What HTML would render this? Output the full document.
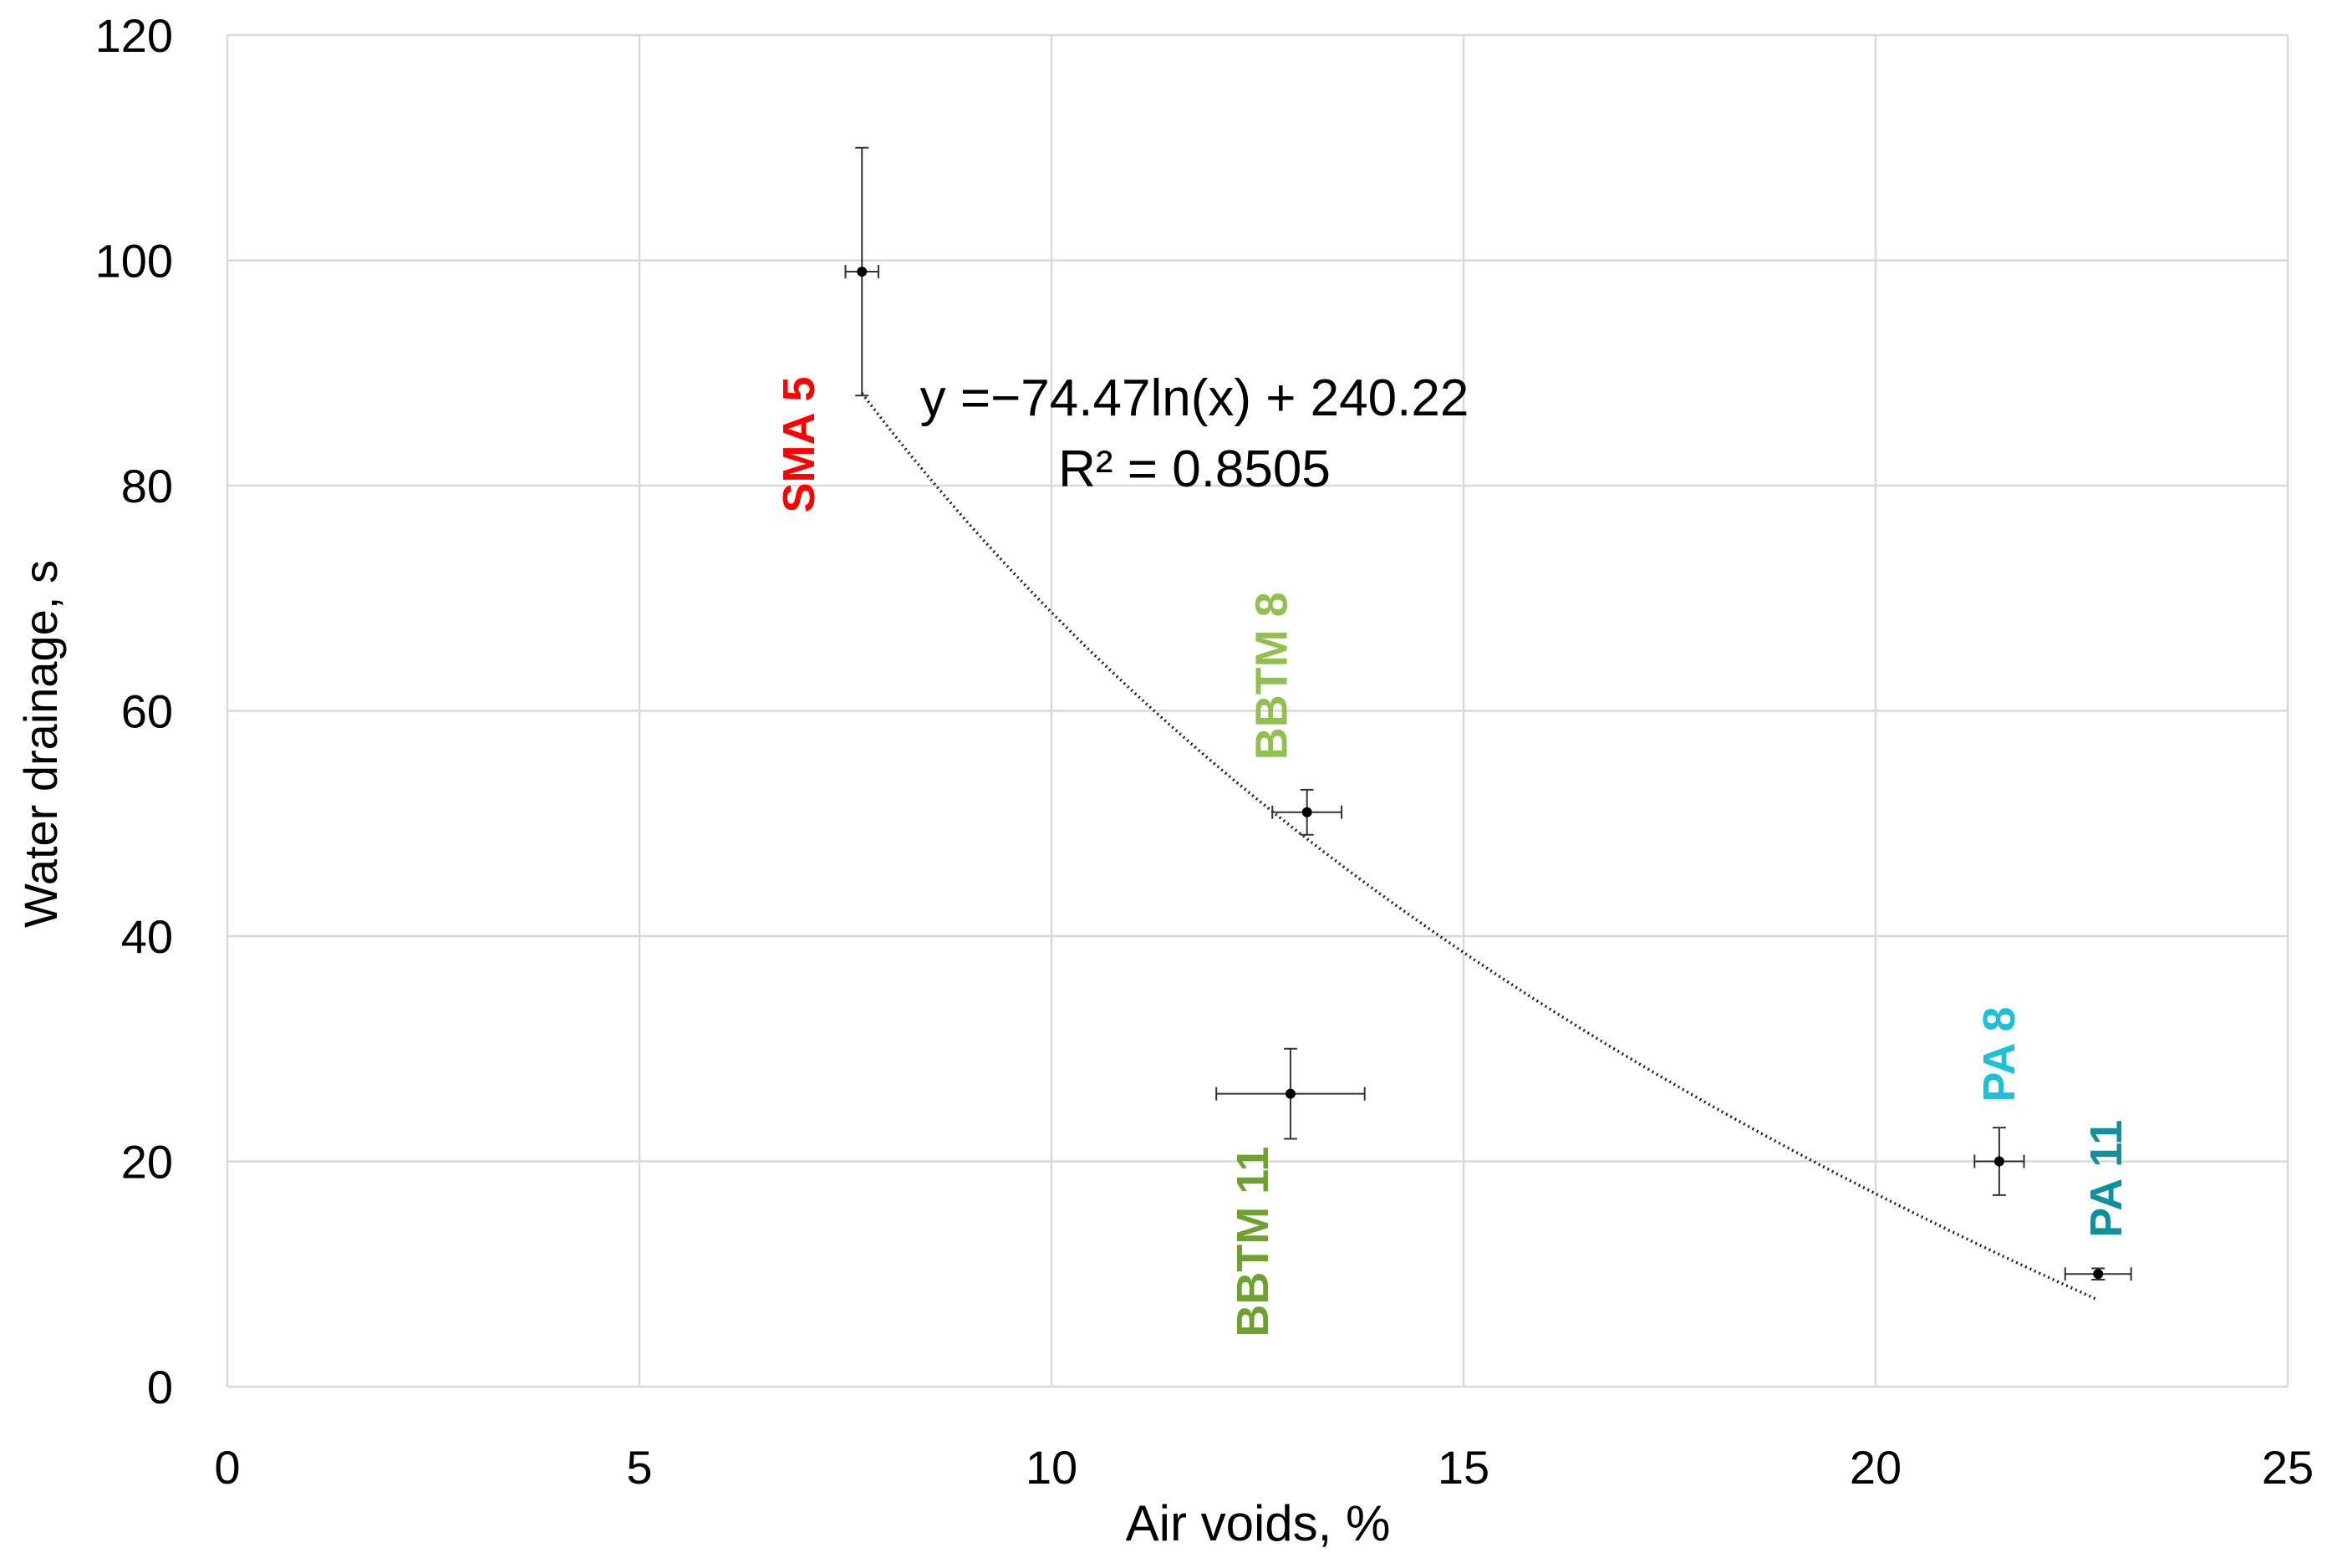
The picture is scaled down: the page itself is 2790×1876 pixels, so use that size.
<!DOCTYPE html>
<html><head><meta charset="utf-8"><style>
html,body{margin:0;padding:0;background:#fff}
svg text{font-family:"Liberation Sans",sans-serif}
</style></head><body>
<svg id="chart" width="2790" height="1871" viewBox="0 0 2790 1871" xmlns="http://www.w3.org/2000/svg">
<g id="grid"></g>
<g id="marks"></g>
<text x="1505" y="1843" font-size="60" text-anchor="middle">Air voids, %</text>
<text x="68" y="890" font-size="56" text-anchor="middle" transform="rotate(-90 68 890)">Water drainage, s</text>
<text x="1429" y="497" font-size="62" text-anchor="middle">y =−74.47ln(x) + 240.22</text>
<text x="1429" y="582" font-size="62" text-anchor="middle">R² = 0.8505</text>
</svg>
<script>
const xTicks=[0,5,10,15,20,25];
const yTicks=[0,20,40,60,80,100,120];
const names=["SMA 5","BBTM 8","BBTM 11","PA 8","PA 11"];
const xVals=[7.7,13.1,12.9,21.5,22.7];
const yVals=[99,51,26,20,10];
const xErr=[0.2,0.42,0.9,0.3,0.4];
const yErr=[11,2,4,3,0.5];
const colors=["#ff0000","#92c050","#70a030","#1ec0d8","#10909e"];
const trendA=-74.47, trendB=240.22, trendFrom=7.7, trendTo=22.7;
const L=272,R=2737,T=42,B=1659;
const sx=v=>L+v/25*(R-L), sy=v=>B-v/120*(B-T);
const NS="http://www.w3.org/2000/svg";
function mk(tag,attrs,parent){const e=document.createElementNS(NS,tag);for(const k in attrs)e.setAttribute(k,attrs[k]);parent.appendChild(e);return e;}
const grid=document.getElementById('grid'), marks=document.getElementById('marks'), svg=document.getElementById('chart');
xTicks.forEach(t=>{
 const l=mk('line',{x1:sx(t),x2:sx(t),y1:T,y2:B,stroke:'#d9d9d9','stroke-width':2.5},grid);
 
 
 const tx=mk('text',{x:sx(t),y:1775,'font-size':56,'text-anchor':'middle'},svg);tx.textContent=t;
 
 
});
yTicks.forEach(t=>{
 const l=mk('line',{x1:L,x2:R,y1:sy(t),y2:sy(t),stroke:'#d9d9d9','stroke-width':2.5},grid);
 
 
 const tx=mk('text',{x:207,y:sy(t)+20,'font-size':56,'text-anchor':'end'},svg);tx.textContent=t;
 
 
});
let d='';for(let i=0;i<=100;i++){const x=trendFrom+(trendTo-trendFrom)*i/100;const y=trendA*Math.log(x)+trendB;d+=(i?'L':'M')+sx(x).toFixed(1)+' '+sy(y).toFixed(1);}
const tr=mk('path',{d:d,fill:'none',stroke:'#222','stroke-width':3.5,'stroke-dasharray':'2 4'},marks);


const labelOff=[[-75,207],[-42,-163],[-45,177],[0,-128],[10,-114]];
xVals.forEach((x,i)=>{
 const y=yVals[i],cx=sx(x),cy=sy(y),c=8;
 const g=mk('g',{},marks);
 
 
 mk('line',{x1:cx,x2:cx,y1:sy(y-yErr[i]),y2:sy(y+yErr[i]),stroke:'#333','stroke-width':2},g);
 mk('line',{x1:cx-c,x2:cx+c,y1:sy(y-yErr[i]),y2:sy(y-yErr[i]),stroke:'#333','stroke-width':2},g);
 mk('line',{x1:cx-c,x2:cx+c,y1:sy(y+yErr[i]),y2:sy(y+yErr[i]),stroke:'#333','stroke-width':2},g);
 mk('line',{x1:sx(x-xErr[i]),x2:sx(x+xErr[i]),y1:cy,y2:cy,stroke:'#333','stroke-width':2},g);
 mk('line',{x1:sx(x-xErr[i]),x2:sx(x-xErr[i]),y1:cy-c,y2:cy+c,stroke:'#333','stroke-width':2},g);
 mk('line',{x1:sx(x+xErr[i]),x2:sx(x+xErr[i]),y1:cy-c,y2:cy+c,stroke:'#333','stroke-width':2},g);
 mk('circle',{cx:cx,cy:cy,r:6,fill:'#000'},g);
 const lx=cx+labelOff[i][0], ly=cy+labelOff[i][1];
 const t=mk('text',{x:lx,y:ly,'font-size':54,'font-weight':'bold',fill:colors[i],'text-anchor':'middle','dominant-baseline':'central',transform:`rotate(-90 ${lx} ${ly})`},svg);
 t.textContent=names[i];
 
 
});
</script>
</body></html>
